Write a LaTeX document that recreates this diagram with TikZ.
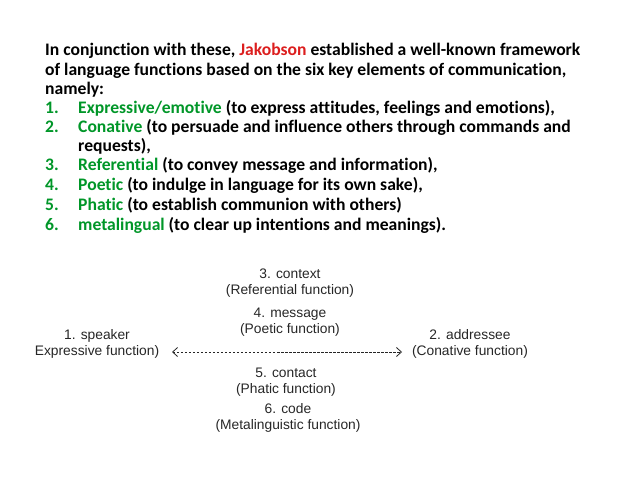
\documentclass[tikz,border=0pt]{standalone}
\usepackage{fontspec}
\usetikzlibrary{arrows.meta}
\setmainfont{Carlito}[Ligatures=NoCommon]
\newfontfamily\diagfont{Liberation Sans}
\definecolor{kgreen}{RGB}{0,150,40}
\definecolor{kred}{RGB}{220,30,30}
\tikzset{
  txt/.style={anchor=base west, inner sep=0pt, font=\bfseries\fontsize{17.6}{20}\selectfont},
  lab/.style={align=center, inner sep=1pt, font=\diagfont\fontsize{13.8}{16.5}\selectfont, text=black!85},
}
\newcommand{\kw}[1]{\textcolor{kgreen}{#1}}
\begin{document}
\begin{tikzpicture}[x=1pt,y=-1pt]
    \useasboundingbox (0,0) rectangle (638,479);
    % text block
    \node[txt] (l1) at (45,55) {In conjunction with these, \textcolor{kred}{Jakobson} established a well-known framework};
    \node[txt] (l2) at (45,75) {of language functions based on the six key elements of communication,};
    \node[txt] (l3) at (45,94) {namely:};
    \node[txt] (n1) at (45,113) {\kw{1.}};
    \node[txt] (t1) at (78,113) {\kw{Expressive/emotive} (to express attitudes, feelings and emotions),};
    \node[txt] (n2) at (45,132) {\kw{2.}};
    \node[txt] (t2) at (78,132) {\kw{Conative} (to persuade and influence others through commands and};
    \node[txt] (t2b) at (78,151) {requests),};
    \node[txt] (n3) at (45,170) {\kw{3.}};
    \node[txt] (t3) at (78,170) {\kw{Referential} (to convey message and information),};
    \node[txt] (n4) at (45,190) {\kw{4.}};
    \node[txt] (t4) at (78,190) {\kw{Poetic} (to indulge in language for its own sake),};
    \node[txt] (n5) at (45,210) {\kw{5.}};
    \node[txt] (t5) at (78,210) {\kw{Phatic} (to establish communion with others)};
    \node[txt] (n6) at (45,230) {\kw{6.}};
    \node[txt] (t6) at (78,230) {\kw{metalingual} (to clear up intentions and meanings).};
    % diagram
    \node[lab] (context) at (290,283) {3. context\\(Referential function)};
    \node[lab] (message) at (290,322) {4. message\\(Poetic function)};
    \node[lab] (speaker) at (97,344) {1. speaker\\Expressive function)};
    \node[lab] (addressee) at (470,344) {2. addressee\\(Conative function)};
    \node[lab] (contact) at (286,382) {5. contact\\(Phatic function)};
    \node[lab] (code) at (288,418) {6. code\\(Metalinguistic function)};
    \coordinate (left) at (172,352);
    \coordinate (right) at (402,352);
    \draw[<->, >={Straight Barb[length=5pt,width=9pt]}, dash pattern=on 2.5pt off 1.5pt, black!85, thick] (left) -- (right);
\end{tikzpicture}
\end{document}
